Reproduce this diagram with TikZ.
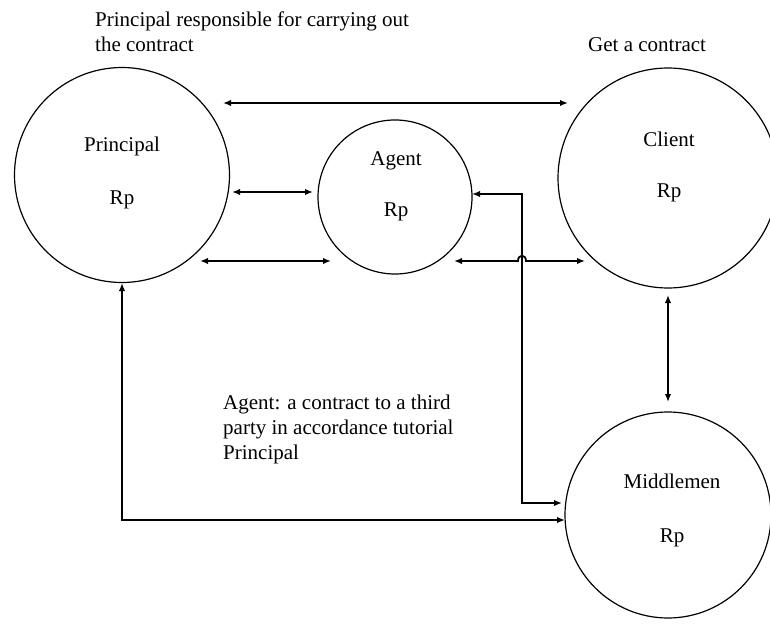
\documentclass[tikz,border=0pt]{standalone}
\usepackage{fontspec}
\setmainfont{Liberation Serif}
\usetikzlibrary{arrows.meta,calc}

\begin{document}
\begin{tikzpicture}[x=1pt,y=-1pt]
        \tikzstyle{party}=[circle, draw=black, line width=1.2pt, inner sep=0pt]
        \tikzstyle{title}=[anchor=base, inner sep=0pt, font=\fontsize{21}{25}\selectfont]
        \tikzstyle{note}=[anchor=base west, align=left, inner sep=0pt, font=\fontsize{21}{25}\selectfont]
        \tikzstyle{connect}=[{Latex[length=8pt,width=6.5pt]}-{Latex[length=8pt,width=6.5pt]}, line width=1.8pt]
        \useasboundingbox (0,0) rectangle (770,628);
        % the four parties
        \node[party, minimum size=215pt] (principal) at (122,175) {};
        \node[party, minimum size=154pt] (agent) at (395,197) {};
        \node[party, minimum size=220pt] (client) at (668,178) {};
        \node[party, minimum size=206pt] (middle) at (668,515) {};
        \node[title] (pname) at ($(principal)+(0,-23)$) {Principal};
        \node[title] (prp) at ($(principal)+(0,30)$) {Rp};
        \node[title] (aname) at ($(agent)+(1,-31)$) {Agent};
        \node[title] (arp) at ($(agent)+(1,20)$) {Rp};
        \node[title] (cname) at ($(client)+(1,-31)$) {Client};
        \node[title] (crp) at ($(client)+(1,20)$) {Rp};
        \node[title] (mname) at ($(middle)+(4,-27)$) {Middlemen};
        \node[title] (mrp) at ($(middle)+(4,27)$) {Rp};
        % notes (base = last line)
        \node[note] (duty) at (95,52) {Principal responsible for carrying out\\the contract};
        \node[note] (deal) at (588,52) {Get a contract};
        \node[note] (third) at (223,459) {Agent: a contract to a third\\party in accordance tutorial\\Principal};
        % arrow ends
        \coordinate (p1) at (223,103); \coordinate (c1) at (568,103);
        \coordinate (p2) at (232,192); \coordinate (a1) at (313,192);
        \coordinate (p3) at (200,261); \coordinate (a2) at (331,261);
        \coordinate (a3) at (454,261); \coordinate (c2) at (585,261);
        \coordinate (a4) at (472,194); \coordinate (m1) at (562,503);
        \coordinate (p4) at (122,283); \coordinate (m2) at (565,520);
        \coordinate (c3) at (668,295); \coordinate (m3) at (668,402);
        \coordinate (bend) at (522,194);
        \draw[connect] (p1) -- (c1);
        \draw[connect] (p2) -- (a1);
        \draw[connect] (p3) -- (a2);
        \draw[connect] (a3) -- ($(bend |- a3)+(-4,0)$) .. controls +(0,-7) and +(0,-7) .. ($(bend |- a3)+(4,0)$) -- (c2);
        \draw[connect] (a4) -- (bend) |- (m1);
        \draw[connect] (p4) |- (m2);
        \draw[connect] (c3) -- (m3);
\end{tikzpicture}
\end{document}
